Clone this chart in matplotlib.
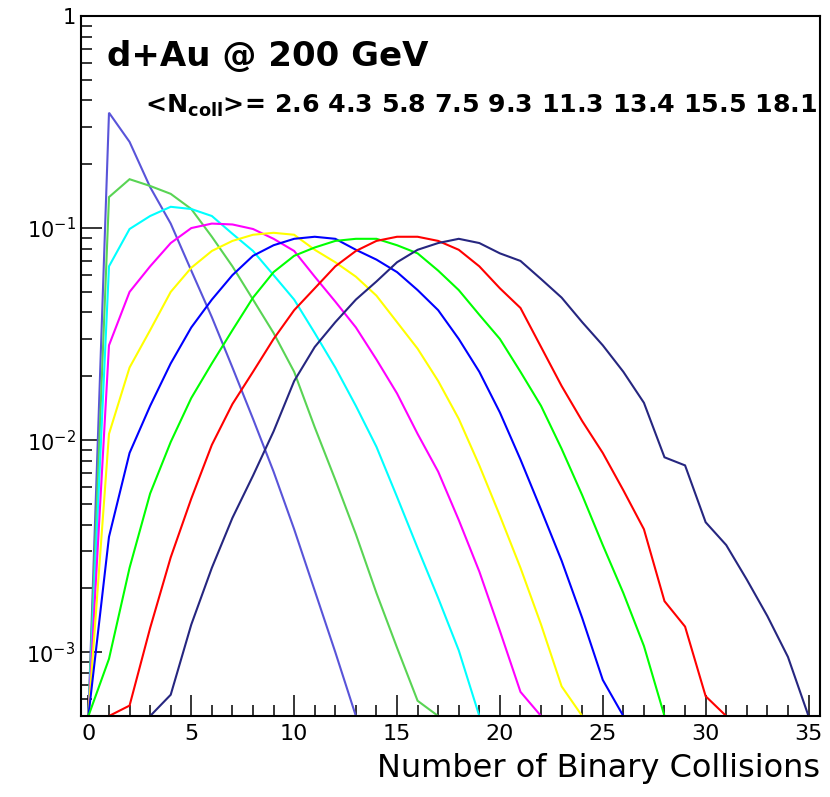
import numpy as np
import matplotlib
matplotlib.use("Agg")
import matplotlib.pyplot as plt
from matplotlib.ticker import MultipleLocator, LogLocator, FuncFormatter, NullFormatter

# Ncoll distributions for the nine d+Au centrality classes (probability per bin)
ncoll_means = [2.6, 4.3, 5.8, 7.5, 9.3, 11.3, 13.4, 15.5, 18.1]

p_c1 = [0, 0.35, 0.255, 0.156, 0.105, 0.063, 0.038, 0.022, 0.0126, 0.0071,
        0.0038, 0.00195, 0.0010, 0]
p_c2 = [0, 0.14, 0.17, 0.158, 0.145, 0.123, 0.091, 0.066, 0.046, 0.032,
        0.021, 0.0115, 0.0065, 0.0036, 0.0019, 0.00105, 0.00059, 0]
p_c3 = [0, 0.066, 0.099, 0.114, 0.126, 0.123, 0.114, 0.094, 0.078, 0.060,
        0.046, 0.032, 0.022, 0.0145, 0.0093, 0.0054, 0.0031, 0.0018, 0.00102, 0]
p_c4 = [0, 0.028, 0.050, 0.066, 0.085, 0.100, 0.105, 0.104, 0.099, 0.089,
        0.078, 0.059, 0.045, 0.034, 0.024, 0.0166, 0.0107, 0.0071, 0.0042, 0.0024,
        0.00126, 0.00065, 0]
p_c5 = [0, 0.0107, 0.022, 0.033, 0.050, 0.065, 0.078, 0.087, 0.093, 0.095,
        0.093, 0.079, 0.069, 0.059, 0.048, 0.036, 0.027, 0.019, 0.0126, 0.0076,
        0.0044, 0.0025, 0.00135, 0.00069, 0]
p_c6 = [0, 0.0035, 0.0087, 0.0145, 0.023, 0.034, 0.046, 0.060, 0.074, 0.083,
        0.089, 0.091, 0.089, 0.079, 0.071, 0.062, 0.051, 0.041, 0.030, 0.021,
        0.0135, 0.0081, 0.0047, 0.0027, 0.00145, 0.00074, 0]
p_c7 = [0, 0.00093, 0.0025, 0.0056, 0.0098, 0.0158, 0.023, 0.033, 0.047, 0.062,
        0.074, 0.081, 0.087, 0.089, 0.089, 0.083, 0.076, 0.063, 0.051, 0.039,
        0.030, 0.021, 0.0145, 0.0091, 0.0055, 0.0032, 0.0019, 0.00107, 0]
p_c8 = [0, 0, 0.00056, 0.0013, 0.0028, 0.0053, 0.0095, 0.0148, 0.021, 0.030,
        0.041, 0.052, 0.066, 0.078, 0.087, 0.091, 0.091, 0.087, 0.079, 0.066,
        0.052, 0.042, 0.0275, 0.018, 0.0123, 0.0087, 0.0058, 0.0038, 0.00174, 0.00132,
        0.00062, 0]
p_c9 = [0, 0, 0, 0, 0.00063, 0.00135, 0.0025, 0.0043, 0.0068, 0.011,
        0.019, 0.0275, 0.036, 0.046, 0.056, 0.069, 0.079, 0.085, 0.089, 0.085,
        0.076, 0.070, 0.0575, 0.047, 0.036, 0.028, 0.021, 0.015, 0.0083, 0.0076,
        0.0041, 0.0032, 0.0022, 0.00148, 0.00095, 0]

curves = [p_c1, p_c2, p_c3, p_c4, p_c5, p_c6, p_c7, p_c8, p_c9]
colors = ["#5954d9", "#59d454", "#00ffff", "#ff00ff", "#ffff00",
          "#0000ff", "#00ff00", "#ff0000", "#262680"]

ymin, ymax = 5e-4, 1.0

fig = plt.figure(figsize=(8.3, 7.97), dpi=100)
ax = fig.add_axes([0.0976, 0.1016, 0.8904, 0.8783])

for vals, col in zip(curves, colors):
    v = np.asarray(vals, dtype=float)
    n = np.arange(len(v))
    # start from the last empty bin before the distribution begins
    first = max(int(np.argmax(v > 0)) - 1, 0)
    # empty bins sit on the bottom of the frame, like a log-scale histogram
    ax.plot(n[first:], np.where(v > 0, v, ymin)[first:], color=col, lw=1.5,
            solid_joinstyle="miter")

ax.set_yscale("log")
ax.set_ylim(ymin, ymax)
ax.set_xlim(-0.36, 35.56)

ax.xaxis.set_major_locator(MultipleLocator(5))
ax.xaxis.set_minor_locator(MultipleLocator(1))
ax.yaxis.set_major_locator(LogLocator(base=10))
ax.yaxis.set_minor_locator(LogLocator(base=10, subs=np.arange(2, 10)))
ax.yaxis.set_minor_formatter(NullFormatter())


def decade_label(y, pos):
    e = int(round(np.log10(y)))
    return "1" if e == 0 else r"$10^{%d}$" % e


ax.yaxis.set_major_formatter(FuncFormatter(decade_label))

ax.tick_params(which="both", direction="in", top=False, right=False,
               width=1.1, colors="black")
ax.tick_params(which="major", length=15)
ax.tick_params(which="minor", length=8)
ax.tick_params(axis="x", labelsize=16, pad=6)
ax.tick_params(axis="y", labelsize=15, pad=4)
for s in ax.spines.values():
    s.set_linewidth(1.5)

ax.set_xlabel("Number of Binary Collisions", fontsize=23, loc="right", labelpad=6)

fig.text(107 / 830, 1 - 57 / 797, "d+Au @ 200 GeV", fontsize=24.5,
         fontweight="bold", ha="left", va="center")
means_txt = " ".join(f"{m:.1f}" for m in ncoll_means)
fig.text(145 / 830, 1 - 106 / 797, r"<N$_{\mathbf{coll}}$>= " + means_txt,
         fontsize=18.2, fontweight="bold", ha="left", va="center")

fig.savefig("out.png", dpi=100)
